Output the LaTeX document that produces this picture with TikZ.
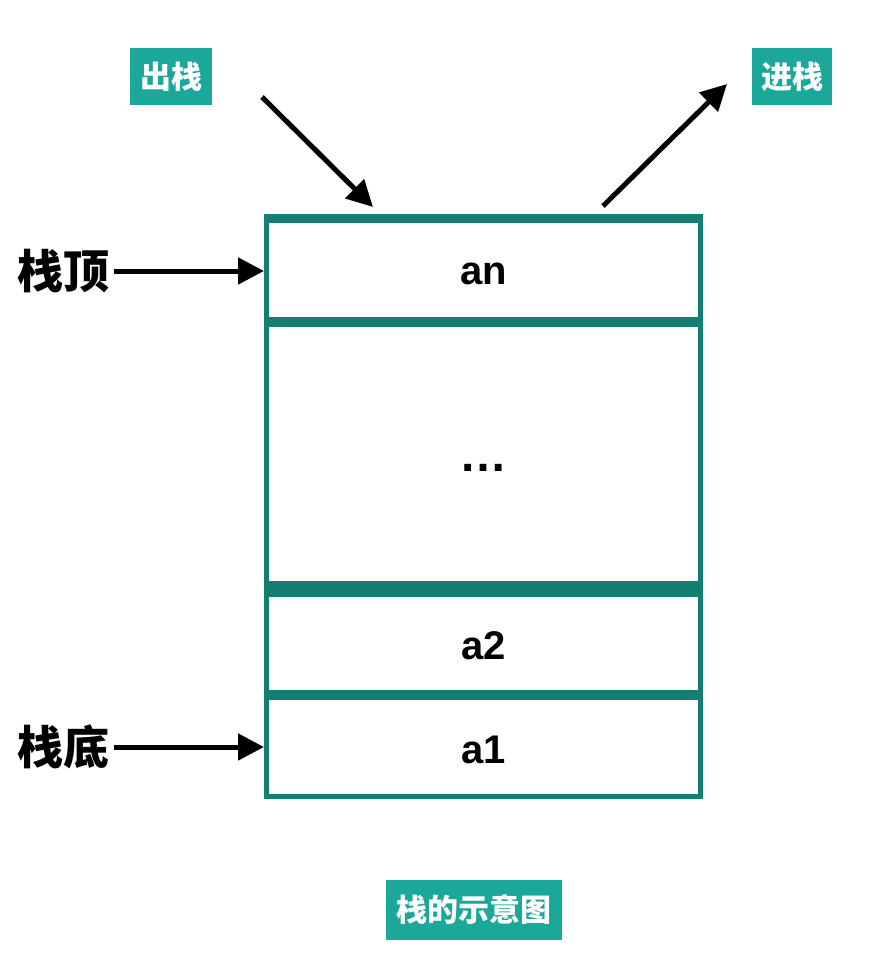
\documentclass[tikz,border=0pt]{standalone}
\usepackage{fontspec}
\setmainfont{Liberation Sans}
\newfontfamily\cjk{Noto Sans CJK SC}
\usetikzlibrary{arrows.meta,calc}
\definecolor{tagfill}{HTML}{1BA89A}
\definecolor{stackline}{HTML}{147D74}
\tikzset{
  tagbox/.style={fill=tagfill, text=white, inner sep=0pt, font=\cjk\bfseries\fontsize{31}{36}\selectfont},
  cell/.style={draw=stackline, line width=5pt, minimum width=434pt, inner sep=0pt},
  celltext/.style={inner sep=0pt, font=\bfseries\fontsize{40}{48}\selectfont},
  sidelabel/.style={inner sep=4pt, font=\cjk\bfseries\fontsize{46}{52}\selectfont},
  arr/.style={line width=5pt, -{Triangle[length=26pt,width=26pt]}},
  bar/.style={fill=stackline}
}
\begin{document}
\begin{tikzpicture}[x=1pt,y=-1pt]
\useasboundingbox (0,0) rectangle (880,970);
% stack cells
\node[cell, minimum height=103pt] (an) at (483.5,268) {};
\node[cell, minimum height=259pt] (dots) at (483.5,454) {};
\node[cell, minimum height=97.5pt] (a2) at (483.5,643.25) {};
\node[cell, minimum height=99.5pt] (a1) at (483.5,746.75) {};
\node[celltext] (tan) at ($(an.center)+(0,6)$) {an};
\node[celltext, font=\bfseries\fontsize{48}{52}\selectfont] (tdots) at ($(dots.center)+(0,14)$) {…};
\node[celltext] (ta2) at ($(a2.center)+(0,2)$) {a2};
\node[celltext] (ta1) at ($(a1.center)+(0,3)$) {a1};
% thicker bars
\fill[bar] (264,214) rectangle (703,223);
\fill[bar] (264,581) rectangle (703,597);
% tags
\node[tagbox, minimum width=82pt, minimum height=57pt] (out) at (171,76.5) {出栈};
\node[tagbox, minimum width=80pt, minimum height=57pt] (in) at (792,76.5) {进栈};
\node[tagbox, minimum width=176pt, minimum height=60pt] (cap) at (474,910) {栈的示意图};
% side labels
\node[sidelabel, anchor=east] (top) at (114,271) {栈顶};
\node[sidelabel, anchor=east] (bot) at (114,747) {栈底};
\draw[arr] (top.east) -- (top.east -| an.west);
\draw[arr] (bot.east) -- (bot.east -| a1.west);
% push / pop arrows
\coordinate (popS) at (262,97);
\coordinate (popE) at (373,207);
\coordinate (pushS) at (603,206);
\coordinate (pushE) at (727,84);
\draw[arr] (popS) -- (popE);
\draw[arr] (pushS) -- (pushE);
\end{tikzpicture}
\end{document}
